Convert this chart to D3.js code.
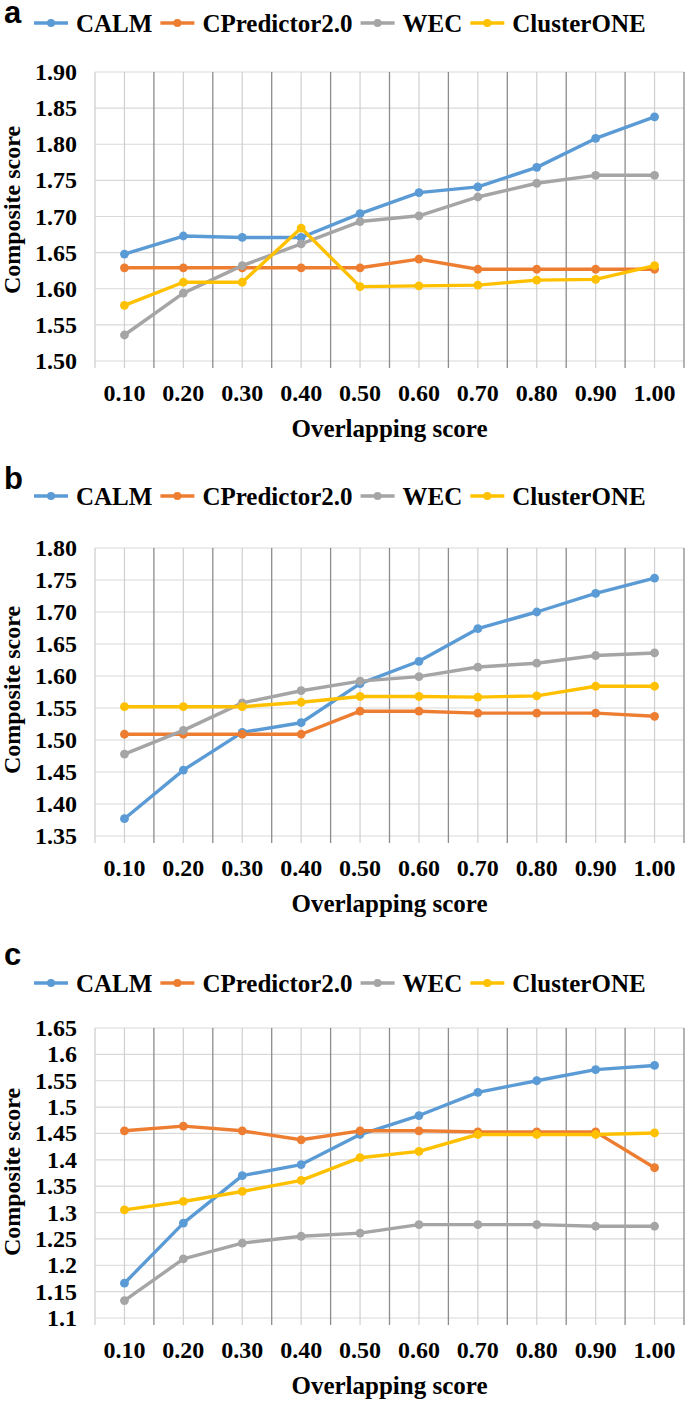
<!DOCTYPE html>
<html>
<head>
<meta charset="utf-8">
<script src="https://d3js.org/d3.v7.min.js"></script>
<style>
  body{margin:0;background:#fff;}
  svg text{font-family:"Liberation Serif","Times New Roman",serif;font-weight:bold;fill:#000;}
</style>
</head>
<body>
<script>
// overlapping score categories
var categories=["0.10","0.20","0.30","0.40","0.50","0.60","0.70","0.80","0.90","1.00"];
var seriesNames=["CALM","CPredictor2.0","WEC","ClusterONE"];
var seriesColors=["#5b9bd5","#ed7d31","#a5a5a5","#ffc000"];

// panel a
var calmA=[1.648,1.673,1.671,1.671,1.704,1.733,1.741,1.768,1.808,1.838];
var cpredA=[1.629,1.629,1.629,1.629,1.629,1.641,1.627,1.627,1.627,1.627];
var wecA=[1.536,1.594,1.632,1.662,1.693,1.701,1.727,1.746,1.757,1.757];
var clusterA=[1.577,1.609,1.609,1.684,1.603,1.604,1.605,1.612,1.613,1.632];
var ticksA=["1.50","1.55","1.60","1.65","1.70","1.75","1.80","1.85","1.90"];

// panel b
var calmB=[1.377,1.453,1.512,1.527,1.588,1.623,1.674,1.700,1.729,1.753];
var cpredB=[1.509,1.509,1.509,1.509,1.545,1.545,1.542,1.542,1.542,1.537];
var wecB=[1.478,1.515,1.558,1.577,1.592,1.599,1.614,1.620,1.632,1.636];
var clusterB=[1.552,1.552,1.552,1.559,1.568,1.568,1.567,1.569,1.584,1.584];
var ticksB=["1.35","1.40","1.45","1.50","1.55","1.60","1.65","1.70","1.75","1.80"];

// panel c
var calmC=[1.166,1.280,1.370,1.391,1.448,1.484,1.528,1.550,1.571,1.579];
var cpredC=[1.455,1.464,1.455,1.438,1.455,1.455,1.453,1.453,1.453,1.385];
var wecC=[1.133,1.212,1.242,1.255,1.261,1.277,1.277,1.277,1.274,1.274];
var clusterC=[1.305,1.321,1.340,1.361,1.404,1.416,1.448,1.448,1.448,1.451];
var ticksC=["1.1","1.15","1.2","1.25","1.3","1.35","1.4","1.45","1.5","1.55","1.6","1.65"];

var panels=[
  {letter:"a",series:[calmA,cpredA,wecA,clusterA],ticks:ticksA},
  {letter:"b",series:[calmB,cpredB,wecB,clusterB],ticks:ticksB},
  {letter:"c",series:[calmC,cpredC,wecC,clusterC],ticks:ticksC}
];

// layout for each panel (pixels)
var layout=[
  {top:72,bottom:361,legendY:32,letterY:23,titleY:210},
  {top:548,bottom:836,legendY:505,letterY:489,titleY:690},
  {top:1028,bottom:1318,legendY:992,letterY:965,titleY:1172}
];

var left=95,right=684;

var svg=d3.select("body").append("svg")
  .attr("width",685)
  .attr("height",1401);
svg.append("rect").attr("width",685).attr("height",1401).attr("fill","#fff");

var x=d3.scaleBand().domain(categories).range([left,right]).padding(0);
var bw=x.bandwidth();

panels.forEach(function(p,i){
  var L=layout[i];
  var tv=p.ticks.map(Number);
  var y=d3.scaleLinear().domain([tv[0],tv[tv.length-1]]).range([L.bottom,L.top]);
  var g=svg.append("g");

  // horizontal grid
  g.selectAll(".hg").data(tv).enter().append("line")
    .attr("x1",left).attr("x2",right)
    .attr("y1",function(d){return y(d);}).attr("y2",function(d){return y(d);})
    .attr("stroke","#d9d9d9").attr("stroke-width",1.2);

  // light vertical lines at category centers
  g.selectAll(".vc").data(categories).enter().append("line")
    .attr("x1",function(d){return x(d)+bw/2;}).attr("x2",function(d){return x(d)+bw/2;})
    .attr("y1",L.top).attr("y2",L.bottom+7)
    .attr("stroke","#cfcfcf").attr("stroke-width",1.2);

  // darker lines at category boundaries
  var bounds=categories.map(function(d){return x(d);}).concat([right]);
  g.selectAll(".vb").data(bounds).enter().append("line")
    .attr("x1",function(d){return d;}).attr("x2",function(d){return d;})
    .attr("y1",L.top).attr("y2",L.bottom+7)
    .attr("stroke",function(d,k){return k==0?"#cfcfcf":"#8c8c8c";})
    .attr("stroke-width",1.3);

  // y tick labels
  g.selectAll(".yl").data(p.ticks).enter().append("text")
    .attr("x",77).attr("y",function(d){return y(+d)+8;})
    .attr("text-anchor","end").attr("font-size",24)
    .text(function(d){return d;});

  // x tick labels
  g.selectAll(".xl").data(categories).enter().append("text")
    .attr("x",function(d){return x(d)+bw/2;}).attr("y",L.bottom+40)
    .attr("text-anchor","middle").attr("font-size",24)
    .text(function(d){return d;});

  g.append("text").attr("x",(left+right)/2).attr("y",L.bottom+76)
    .attr("text-anchor","middle").attr("font-size",25)
    .text("Overlapping score");

  g.append("text").attr("transform","translate(20,"+L.titleY+") rotate(-90)")
    .attr("text-anchor","middle").attr("font-size",24)
    .text("Composite score");

  // series
  var line=d3.line()
    .x(function(d,k){return x(categories[k])+bw/2;})
    .y(function(d){return y(d);});
  p.series.forEach(function(s,si){
    g.append("path").datum(s).attr("d",line)
      .attr("fill","none").attr("stroke",seriesColors[si])
      .attr("stroke-width",3.4).attr("stroke-linejoin","round");
    g.selectAll(".pt"+si).data(s).enter().append("circle")
      .attr("cx",function(d,k){return x(categories[k])+bw/2;})
      .attr("cy",function(d){return y(d);})
      .attr("r",4.4).attr("fill",seriesColors[si]);
  });

  // legend
  var lx=34;
  seriesNames.forEach(function(n,si){
    var ly=L.legendY-9;
    g.append("line").attr("x1",lx).attr("x2",lx+34).attr("y1",ly).attr("y2",ly)
      .attr("stroke",seriesColors[si]).attr("stroke-width",3.4);
    g.append("circle").attr("cx",lx+17).attr("cy",ly).attr("r",4).attr("fill",seriesColors[si]);
    var t=g.append("text").attr("x",lx+42).attr("y",L.legendY).attr("font-size",25).text(n);
    lx=lx+42+t.node().getComputedTextLength()+8;
  });

  // panel letter
  g.append("text").attr("x",4).attr("y",L.letterY)
    .style("font-family","'Liberation Sans',Arial,sans-serif")
    .attr("font-size",31).text(p.letter);
});
</script>
</body>
</html>
